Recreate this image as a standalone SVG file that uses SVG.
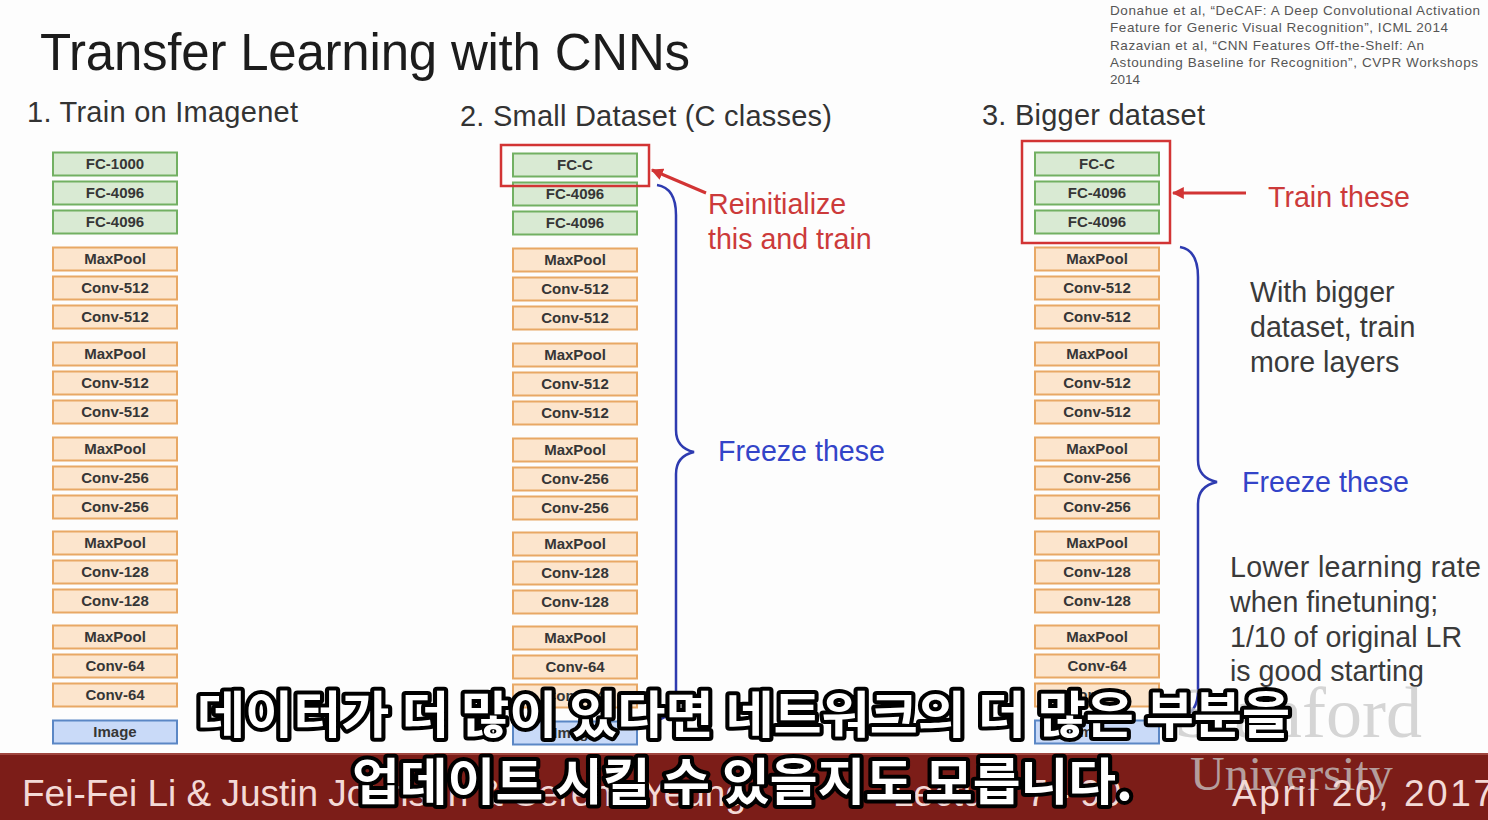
<svg xmlns="http://www.w3.org/2000/svg" width="1488" height="820" viewBox="0 0 1488 820">
  <style>
    .ttl { font-family: "Liberation Sans", Arial, sans-serif; fill: #1c1c1c; }
    .hdr { font-family: "Liberation Sans", Arial, sans-serif; font-size: 29px; fill: #333; }
    .note { font-family: "Liberation Sans", Arial, sans-serif; font-size: 28.6px; fill: #3a3a3a; }
    .cite { font-family: "Liberation Sans", Arial, sans-serif; font-size: 13.5px; fill: #555; }
    .red { font-family: "Liberation Sans", Arial, sans-serif; font-size: 28.6px; fill: #cc3a3a; }
    .blue { font-family: "Liberation Sans", Arial, sans-serif; font-size: 28.6px; fill: #3344c8; }
    .lbl { font-family: "Liberation Sans", Arial, sans-serif; font-size: 15px; font-weight: bold; fill: #363636; text-anchor: middle; }
    .fc rect { fill: #d9ead3; stroke: #72b062; stroke-width: 2; }
    .cv rect { fill: #fce5cd; stroke: #e8a865; stroke-width: 2; }
    .im rect { fill: #c9daf8; stroke: #5b87c5; stroke-width: 2; }
    .hl { fill: none; stroke: #d23434; stroke-width: 2.5; }
    .arrow { fill: none; stroke: #d23434; stroke-width: 3; }
    .brace { fill: none; stroke: #2e3bb0; stroke-width: 2.5; }
    .foot { font-family: "Liberation Sans", Arial, sans-serif; font-size: 37px; fill: #f3d9d6; }
    .wm { font-family: "Liberation Serif", "Times New Roman", serif; fill: #c8c8c8; opacity: 0.75; }
    .sub { font-family: "Noto Sans CJK KR", "Noto Sans", sans-serif; font-size: 50px; font-weight: bold; fill: #fff; stroke: #000; stroke-width: 8; stroke-linejoin: round; paint-order: stroke; }
  </style>
  <defs>
    <marker id="ah" viewBox="0 0 10 10" refX="9" refY="5" markerWidth="4" markerHeight="4" orient="auto-start-reverse">
      <path d="M0,0 L10,5 L0,10 z" fill="#d23434"/>
    </marker>
  </defs>

  <rect x="0" y="0" width="1488" height="820" fill="#fdfdfd"/>

  <!-- headings -->
  <g id="title">
    <text class="ttl" x="40" y="70" font-size="51" textLength="650">Transfer Learning with CNNs</text>
  </g>
  <g id="references">
    <text class="cite" x="1110" y="15" textLength="370">Donahue et al, “DeCAF: A Deep Convolutional Activation</text>
    <text class="cite" x="1110" y="32" textLength="338">Feature for Generic Visual Recognition”, ICML 2014</text>
    <text class="cite" x="1110" y="50" textLength="314">Razavian et al, “CNN Features Off-the-Shelf: An</text>
    <text class="cite" x="1110" y="67" textLength="368">Astounding Baseline for Recognition”, CVPR Workshops</text>
    <text class="cite" x="1110" y="84">2014</text>
  </g>
  <g id="headers">
    <text class="hdr" x="27" y="122" textLength="271">1. Train on Imagenet</text>
    <text class="hdr" x="460" y="126" textLength="372">2. Small Dataset (C classes)</text>
    <text class="hdr" x="982" y="125" textLength="223">3. Bigger dataset</text>
  </g>

  <!-- column 1: network trained on ImageNet -->
  <g id="net1">
    <g class="fc"><rect x="53" y="152.5" width="124" height="23"/><rect x="53" y="181.5" width="124" height="23"/><rect x="53" y="210.5" width="124" height="23"/></g>
    <g class="cv">
      <rect x="53" y="247.5" width="124" height="23"/><rect x="53" y="276.5" width="124" height="23"/><rect x="53" y="305.5" width="124" height="23"/>
      <rect x="53" y="342.5" width="124" height="23"/><rect x="53" y="371.5" width="124" height="23"/><rect x="53" y="400.5" width="124" height="23"/>
      <rect x="53" y="437.5" width="124" height="23"/><rect x="53" y="466.5" width="124" height="23"/><rect x="53" y="495.5" width="124" height="23"/>
      <rect x="53" y="531.5" width="124" height="23"/><rect x="53" y="560.5" width="124" height="23"/><rect x="53" y="589.5" width="124" height="23"/>
      <rect x="53" y="625.5" width="124" height="23"/><rect x="53" y="654.5" width="124" height="23"/><rect x="53" y="683.5" width="124" height="23"/>
    </g>
    <g class="im"><rect x="53" y="720.5" width="124" height="23"/></g>
    <text class="lbl" x="115" y="169">FC-1000</text>
    <text class="lbl" x="115" y="198">FC-4096</text>
    <text class="lbl" x="115" y="227">FC-4096</text>
    <text class="lbl" x="115" y="264">MaxPool</text>
    <text class="lbl" x="115" y="293">Conv-512</text>
    <text class="lbl" x="115" y="322">Conv-512</text>
    <text class="lbl" x="115" y="359">MaxPool</text>
    <text class="lbl" x="115" y="388">Conv-512</text>
    <text class="lbl" x="115" y="417">Conv-512</text>
    <text class="lbl" x="115" y="454">MaxPool</text>
    <text class="lbl" x="115" y="483">Conv-256</text>
    <text class="lbl" x="115" y="512">Conv-256</text>
    <text class="lbl" x="115" y="548">MaxPool</text>
    <text class="lbl" x="115" y="577">Conv-128</text>
    <text class="lbl" x="115" y="606">Conv-128</text>
    <text class="lbl" x="115" y="642">MaxPool</text>
    <text class="lbl" x="115" y="671">Conv-64</text>
    <text class="lbl" x="115" y="700">Conv-64</text>
    <text class="lbl" x="115" y="737">Image</text>
  </g>

  <!-- column 2: small dataset -->
  <g id="net2">
    <g class="fc"><rect x="513" y="153.5" width="124" height="23"/><rect x="513" y="182.5" width="124" height="23"/><rect x="513" y="211.5" width="124" height="23"/></g>
    <g class="cv">
      <rect x="513" y="248.5" width="124" height="23"/><rect x="513" y="277.5" width="124" height="23"/><rect x="513" y="306.5" width="124" height="23"/>
      <rect x="513" y="343.5" width="124" height="23"/><rect x="513" y="372.5" width="124" height="23"/><rect x="513" y="401.5" width="124" height="23"/>
      <rect x="513" y="438.5" width="124" height="23"/><rect x="513" y="467.5" width="124" height="23"/><rect x="513" y="496.5" width="124" height="23"/>
      <rect x="513" y="532.5" width="124" height="23"/><rect x="513" y="561.5" width="124" height="23"/><rect x="513" y="590.5" width="124" height="23"/>
      <rect x="513" y="626.5" width="124" height="23"/><rect x="513" y="655.5" width="124" height="23"/><rect x="513" y="684.5" width="124" height="23"/>
    </g>
    <g class="im"><rect x="513" y="721.5" width="124" height="23"/></g>
    <text class="lbl" x="575" y="170">FC-C</text>
    <text class="lbl" x="575" y="199">FC-4096</text>
    <text class="lbl" x="575" y="228">FC-4096</text>
    <text class="lbl" x="575" y="265">MaxPool</text>
    <text class="lbl" x="575" y="294">Conv-512</text>
    <text class="lbl" x="575" y="323">Conv-512</text>
    <text class="lbl" x="575" y="360">MaxPool</text>
    <text class="lbl" x="575" y="389">Conv-512</text>
    <text class="lbl" x="575" y="418">Conv-512</text>
    <text class="lbl" x="575" y="455">MaxPool</text>
    <text class="lbl" x="575" y="484">Conv-256</text>
    <text class="lbl" x="575" y="513">Conv-256</text>
    <text class="lbl" x="575" y="549">MaxPool</text>
    <text class="lbl" x="575" y="578">Conv-128</text>
    <text class="lbl" x="575" y="607">Conv-128</text>
    <text class="lbl" x="575" y="643">MaxPool</text>
    <text class="lbl" x="575" y="672">Conv-64</text>
    <text class="lbl" x="575" y="701">Conv-64</text>
    <text class="lbl" x="575" y="738">Image</text>
    <rect class="hl" x="501" y="145" width="148" height="41"/>
  </g>

  <!-- column 3: bigger dataset -->
  <g id="net3">
    <g class="fc"><rect x="1035" y="152.5" width="124" height="23"/><rect x="1035" y="181.5" width="124" height="23"/><rect x="1035" y="210.5" width="124" height="23"/></g>
    <g class="cv">
      <rect x="1035" y="247.5" width="124" height="23"/><rect x="1035" y="276.5" width="124" height="23"/><rect x="1035" y="305.5" width="124" height="23"/>
      <rect x="1035" y="342.5" width="124" height="23"/><rect x="1035" y="371.5" width="124" height="23"/><rect x="1035" y="400.5" width="124" height="23"/>
      <rect x="1035" y="437.5" width="124" height="23"/><rect x="1035" y="466.5" width="124" height="23"/><rect x="1035" y="495.5" width="124" height="23"/>
      <rect x="1035" y="531.5" width="124" height="23"/><rect x="1035" y="560.5" width="124" height="23"/><rect x="1035" y="589.5" width="124" height="23"/>
      <rect x="1035" y="625.5" width="124" height="23"/><rect x="1035" y="654.5" width="124" height="23"/><rect x="1035" y="683.5" width="124" height="23"/>
    </g>
    <g class="im"><rect x="1035" y="720.5" width="124" height="23"/></g>
    <text class="lbl" x="1097" y="169">FC-C</text>
    <text class="lbl" x="1097" y="198">FC-4096</text>
    <text class="lbl" x="1097" y="227">FC-4096</text>
    <text class="lbl" x="1097" y="264">MaxPool</text>
    <text class="lbl" x="1097" y="293">Conv-512</text>
    <text class="lbl" x="1097" y="322">Conv-512</text>
    <text class="lbl" x="1097" y="359">MaxPool</text>
    <text class="lbl" x="1097" y="388">Conv-512</text>
    <text class="lbl" x="1097" y="417">Conv-512</text>
    <text class="lbl" x="1097" y="454">MaxPool</text>
    <text class="lbl" x="1097" y="483">Conv-256</text>
    <text class="lbl" x="1097" y="512">Conv-256</text>
    <text class="lbl" x="1097" y="548">MaxPool</text>
    <text class="lbl" x="1097" y="577">Conv-128</text>
    <text class="lbl" x="1097" y="606">Conv-128</text>
    <text class="lbl" x="1097" y="642">MaxPool</text>
    <text class="lbl" x="1097" y="671">Conv-64</text>
    <text class="lbl" x="1097" y="700">Conv-64</text>
    <text class="lbl" x="1097" y="737">Image</text>
    <rect class="hl" x="1022" y="141" width="148" height="102"/>
  </g>

  <!-- arrows and braces -->
  <g id="connectors">
    <line class="arrow" x1="706" y1="193" x2="652" y2="170" marker-end="url(#ah)"/>
    <line class="arrow" x1="1246" y1="193" x2="1173" y2="193" marker-end="url(#ah)"/>
    <path class="brace" d="M657,185 Q676,188 676,215 L676,430 Q676,448 694,452 Q676,456 676,474 L676,692 Q676,716 657,720"/>
    <path class="brace" d="M1180,247 Q1198,250 1198,277 L1198,460 Q1198,478 1217,482 Q1198,486 1198,504 L1198,690 Q1198,714 1180,717"/>
  </g>

  <!-- annotations -->
  <g id="annotations">
    <text class="red" x="708" y="214">Reinitialize</text>
    <text class="red" x="708" y="249">this and train</text>
    <text class="red" x="1268" y="207">Train these</text>
    <text class="blue" x="718" y="461">Freeze these</text>
    <text class="blue" x="1242" y="492">Freeze these</text>
    <text class="note" x="1250" y="302">With bigger</text>
    <text class="note" x="1250" y="337">dataset, train</text>
    <text class="note" x="1250" y="372">more layers</text>
    <text class="note" x="1230" y="577" textLength="251">Lower learning rate</text>
    <text class="note" x="1230" y="612">when finetuning;</text>
    <text class="note" x="1230" y="647">1/10 of original LR</text>
    <text class="note" x="1230" y="681">is good starting</text>
  </g>

  <!-- footer bar -->
  <g id="footer">
    <rect x="0" y="753" width="1488" height="67" fill="#7c1d18"/>
    <rect x="0" y="753" width="1488" height="2" fill="#a0463f"/>
    <text class="wm" x="1422" y="737" font-size="72" text-anchor="end">Stanford</text>
    <text class="wm" x="1190" y="790" font-size="48">University</text>
    <text class="foot" x="22" y="806">Fei-Fei Li &amp; Justin Johnson &amp; Serena Yeung</text>
    <text class="foot" x="893" y="806">Lecture 7 - 90</text>
    <text class="foot" x="1232" y="806" textLength="262">April 20, 2017</text>
  </g>

  <!-- caption overlay -->
  <g id="caption">
    <text class="sub" x="197" y="733" textLength="1093" lengthAdjust="spacingAndGlyphs">데이터가 더 많이 있다면 네트워크의 더 많은 부분을</text>
    <text class="sub" x="352" y="800" textLength="781" lengthAdjust="spacingAndGlyphs">업데이트 시킬 수 있을지도 모릅니다.</text>
  </g>
</svg>
